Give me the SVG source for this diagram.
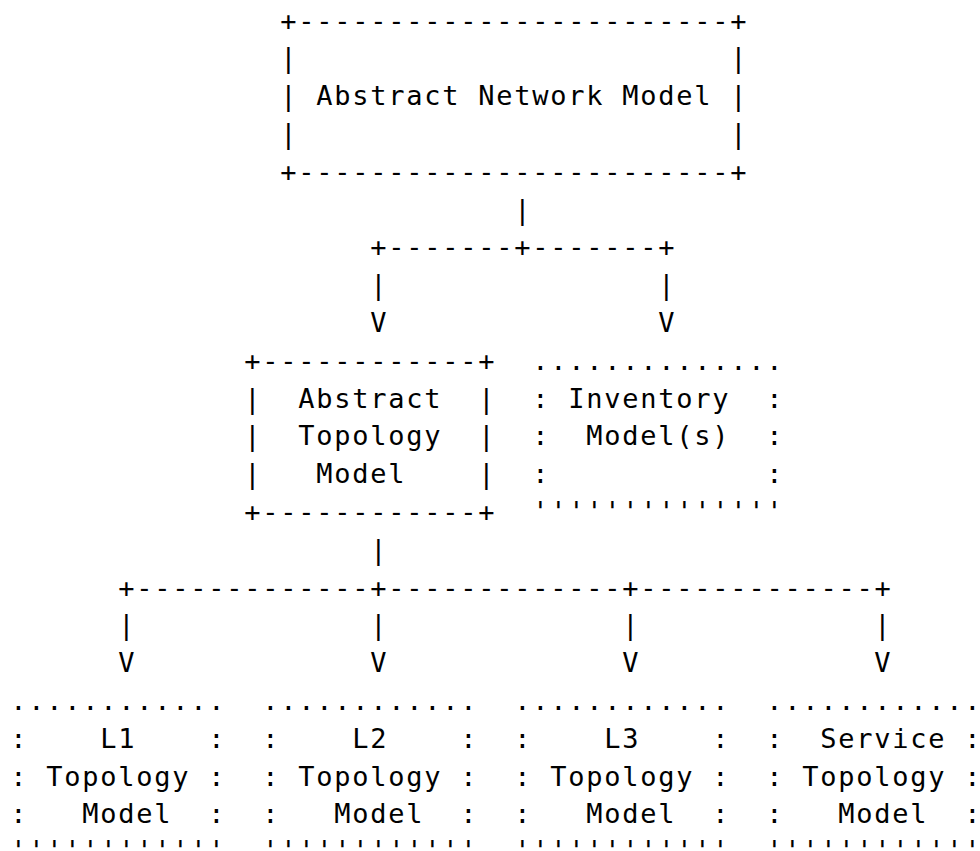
<svg xmlns="http://www.w3.org/2000/svg" width="980" height="851" viewBox="0 0 980 851" xml:space="preserve">
<style>
text{font-family:"DejaVu Sans Mono","Liberation Mono",monospace;font-size:27px;letter-spacing:1.75px;fill:#000;white-space:pre}
</style>
<rect x="0" y="0" width="980" height="851" fill="#fff"/>
<g id="abstract-network-model">
<text xml:space="preserve" x="280.2" y="29.5">+------------------------+</text>
<text xml:space="preserve" x="280.2" y="67.3">|                        |</text>
<text xml:space="preserve" x="280.2" y="105.1">| Abstract Network Model |</text>
<text xml:space="preserve" x="280.2" y="142.9">|                        |</text>
<text xml:space="preserve" x="280.2" y="180.7">+------------------------+</text>
</g>
<g id="connectors">
<text x="514.2" y="218.5">|</text>
<text x="370.2" y="256.3">+-------+-------+</text>
<text x="370.2" y="294.1">|</text>
<text x="658.2" y="294.1">|</text>
<text x="370.2" y="331.9">V</text>
<text x="658.2" y="331.9">V</text>
<text x="370.2" y="558.7">|</text>
<text x="118.2" y="596.5">+-------------+-------------+-------------+</text>
<text x="118.2" y="634.3">|</text>
<text x="370.2" y="634.3">|</text>
<text x="622.2" y="634.3">|</text>
<text x="874.2" y="634.3">|</text>
<text x="118.2" y="672.1">V</text>
<text x="370.2" y="672.1">V</text>
<text x="622.2" y="672.1">V</text>
<text x="874.2" y="672.1">V</text>
</g>
<g id="abstract-topology-model">
<text xml:space="preserve" x="244.2" y="369.7">+------------+</text>
<text xml:space="preserve" x="244.2" y="407.5">|  Abstract  |</text>
<text xml:space="preserve" x="244.2" y="445.3">|  Topology  |</text>
<text xml:space="preserve" x="244.2" y="483.1">|   Model    |</text>
<text xml:space="preserve" x="244.2" y="520.9">+------------+</text>
</g>
<g id="inventory-models">
<text xml:space="preserve" x="532.2" y="369.7">..............</text>
<text xml:space="preserve" x="532.2" y="407.5">: Inventory  :</text>
<text xml:space="preserve" x="532.2" y="445.3">:  Model(s)  :</text>
<text xml:space="preserve" x="532.2" y="483.1">:            :</text>
<text xml:space="preserve" x="532.2" y="520.9">''''''''''''''</text>
</g>
<g id="l1-topology-model">
<text xml:space="preserve" x="10.2" y="709.9">............</text>
<text xml:space="preserve" x="10.2" y="747.7">:    L1    :</text>
<text xml:space="preserve" x="10.2" y="785.5">: Topology :</text>
<text xml:space="preserve" x="10.2" y="823.3">:   Model  :</text>
<text xml:space="preserve" x="10.2" y="860">''''''''''''</text>
</g>
<g id="l2-topology-model">
<text xml:space="preserve" x="262.2" y="709.9">............</text>
<text xml:space="preserve" x="262.2" y="747.7">:    L2    :</text>
<text xml:space="preserve" x="262.2" y="785.5">: Topology :</text>
<text xml:space="preserve" x="262.2" y="823.3">:   Model  :</text>
<text xml:space="preserve" x="262.2" y="860">''''''''''''</text>
</g>
<g id="l3-topology-model">
<text xml:space="preserve" x="514.2" y="709.9">............</text>
<text xml:space="preserve" x="514.2" y="747.7">:    L3    :</text>
<text xml:space="preserve" x="514.2" y="785.5">: Topology :</text>
<text xml:space="preserve" x="514.2" y="823.3">:   Model  :</text>
<text xml:space="preserve" x="514.2" y="860">''''''''''''</text>
</g>
<g id="service-topology-model">
<text xml:space="preserve" x="766.2" y="709.9">............</text>
<text xml:space="preserve" x="766.2" y="747.7">:  Service :</text>
<text xml:space="preserve" x="766.2" y="785.5">: Topology :</text>
<text xml:space="preserve" x="766.2" y="823.3">:   Model  :</text>
<text xml:space="preserve" x="766.2" y="860">''''''''''''</text>
</g>
</svg>
